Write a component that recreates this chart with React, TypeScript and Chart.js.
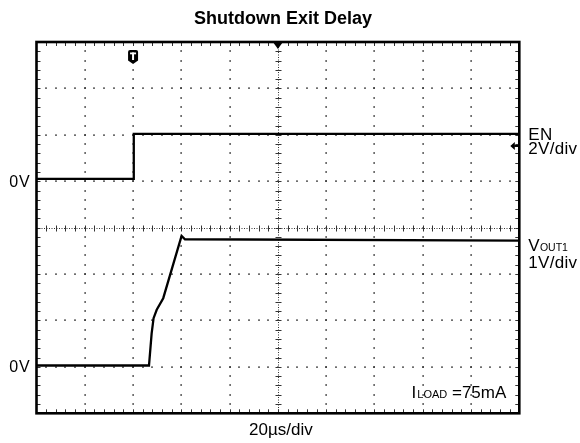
import React, { useEffect, useRef } from "react";
import { Chart, registerables } from "chart.js";

Chart.register(...registerables);

// ---- data ----
const timePerDiv = 20; // µs per division
const timeDivs = 10;
const vertDivs = 8;
const enVoltsPerDiv = 2;
const enZeroDiv = 5; // EN ground level, divisions from bottom
const voutVoltsPerDiv = 1;
const voutZeroDiv = 1; // VOUT1 ground level, divisions from bottom

const enTime = [0, 40, 40.3, 200];
const enVolts = [0.1, 0.1, 2.04, 2.04];

const voutTime = [0, 46.6, 47.7, 48.5, 49.8, 52.5, 60.1, 61.5, 200];
const voutVolts = [0.03, 0.03, 0.72, 1.05, 1.23, 1.48, 2.82, 2.75, 2.72];

const triggerTime = 40;

const titleText = "Shutdown Exit Delay";
const timeLabel = "20µs/div";
const enLabel = "EN";
const enScaleLabel = "2V/div";
const voutLabel = "V";
const voutSub = "OUT1";
const voutScaleLabel = "1V/div";
const groundLabel = "0V";
const loadMain = "I";
const loadSub = "LOAD";
const loadRest = " =75mA";

const FONT = "'Liberation Sans', Arial, sans-serif";

const scopePlugin = {
  id: "scope",
  beforeDatasetsDraw(chart: any) {
    const { ctx, chartArea: a } = chart;
    const xs = chart.scales.x;
    const ys = chart.scales.yV;
    const xPix = (d: number) => xs.getPixelForValue(d * timePerDiv);
    const yPix = (d: number) => ys.getPixelForValue(d * voutVoltsPerDiv - voutZeroDiv * voutVoltsPerDiv);
    ctx.save();
    ctx.fillStyle = "#333";
    // dotted gridlines
    for (let i = 1; i < timeDivs; i++) {
      if (i === timeDivs / 2) continue;
      const x = xPix(i);
      for (let j = 1; j < vertDivs * 5; j++) {
        const y = yPix(j / 5);
        ctx.fillRect(Math.round(x) - 0.5, Math.round(y) - 1, 1.2, 2);
      }
    }
    for (let j = 1; j < vertDivs; j++) {
      if (j === vertDivs / 2) continue;
      const y = yPix(j);
      for (let i = 1; i < timeDivs * 5; i++) {
        const x = xPix(i / 5);
        ctx.fillRect(Math.round(x) - 1, Math.round(y) - 0.5, 2, 1.2);
      }
    }
    // center lines
    ctx.strokeStyle = "#333";
    ctx.lineWidth = 1;
    ctx.setLineDash([1, 1.5]);
    const cx = Math.round(xPix(timeDivs / 2)) + 0.5;
    const cy = Math.round(yPix(vertDivs / 2)) + 0.5;
    ctx.beginPath();
    ctx.moveTo(cx, a.top);
    ctx.lineTo(cx, a.bottom);
    ctx.moveTo(a.left, cy);
    ctx.lineTo(a.right, cy);
    ctx.stroke();
    ctx.setLineDash([]);
    ctx.beginPath();
    for (let j = 1; j < vertDivs * 5; j++) {
      const y = Math.round(yPix(j / 5)) + 0.5;
      ctx.moveTo(cx - 3, y);
      ctx.lineTo(cx + 3, y);
    }
    for (let i = 1; i < timeDivs * 5; i++) {
      const x = Math.round(xPix(i / 5)) + 0.5;
      ctx.moveTo(x, cy - 3);
      ctx.lineTo(x, cy + 3);
    }
    // border ticks
    for (let i = 1; i < timeDivs * 5; i++) {
      const x = Math.round(xPix(i / 5)) + 0.5;
      ctx.moveTo(x, a.top);
      ctx.lineTo(x, a.top + 4);
      ctx.moveTo(x, a.bottom);
      ctx.lineTo(x, a.bottom - 4);
    }
    for (let j = 1; j < vertDivs * 5; j++) {
      const y = Math.round(yPix(j / 5)) + 0.5;
      ctx.moveTo(a.left, y);
      ctx.lineTo(a.left + 4, y);
      ctx.moveTo(a.right, y);
      ctx.lineTo(a.right - 4, y);
    }
    ctx.stroke();
    ctx.restore();
  },
  afterDraw(chart: any) {
    const { ctx, chartArea: a } = chart;
    const xs = chart.scales.x;
    const yE = chart.scales.yEN;
    const yV = chart.scales.yV;
    ctx.save();
    // border
    ctx.strokeStyle = "#000";
    ctx.lineWidth = 2.6;
    ctx.strokeRect(a.left, a.top, a.right - a.left, a.bottom - a.top);

    ctx.fillStyle = "#000";
    // top center marker
    const cx = xs.getPixelForValue((timeDivs / 2) * timePerDiv);
    ctx.beginPath();
    ctx.moveTo(cx - 5, a.top);
    ctx.lineTo(cx + 5, a.top);
    ctx.lineTo(cx, a.top + 7);
    ctx.closePath();
    ctx.fill();

    // trigger marker
    const tx = xs.getPixelForValue(triggerTime);
    const ty = a.top + 8;
    ctx.beginPath();
    ctx.moveTo(tx - 5, ty + 2);
    ctx.quadraticCurveTo(tx - 5, ty, tx - 3, ty);
    ctx.lineTo(tx + 3, ty);
    ctx.quadraticCurveTo(tx + 5, ty, tx + 5, ty + 2);
    ctx.lineTo(tx + 5, ty + 10.5);
    ctx.lineTo(tx, ty + 14);
    ctx.lineTo(tx - 5, ty + 10.5);
    ctx.closePath();
    ctx.fill();
    ctx.fillStyle = "#fff";
    ctx.fillRect(tx - 3, ty + 2.5, 6, 1.8);
    ctx.fillRect(tx - 1, ty + 2.5, 2, 7.5);

    // right-side reference arrow
    ctx.fillStyle = "#000";
    const ay = yE.getPixelForValue(1.52);
    ctx.beginPath();
    ctx.moveTo(a.right - 9, ay);
    ctx.lineTo(a.right - 4.5, ay - 4);
    ctx.lineTo(a.right - 4.5, ay + 4);
    ctx.closePath();
    ctx.fill();
    ctx.fillRect(a.right - 5, ay - 1, 5, 2);

    // texts
    ctx.textBaseline = "middle";
    ctx.font = `bold 18px ${FONT}`;
    ctx.textAlign = "center";
    ctx.fillText(titleText, 283, 19);

    ctx.font = `17px ${FONT}`;
    ctx.fillText(timeLabel, (a.left + a.right) / 2 + 3, 430);

    ctx.font = `16px ${FONT}`;
    (ctx as any).letterSpacing = "0.8px";
    ctx.textAlign = "right";
    ctx.fillText(groundLabel, a.left - 6, yE.getPixelForValue(0) + 1.5);
    ctx.fillText(groundLabel, a.left - 6, yV.getPixelForValue(0) + 1);

    ctx.textAlign = "left";
    ctx.font = `17px ${FONT}`;
    (ctx as any).letterSpacing = "0.3px";
    const lx = a.right + 9;
    ctx.fillText(enLabel, lx, 135);
    ctx.fillText(enScaleLabel, lx, 149);
    ctx.textBaseline = "alphabetic";
    ctx.fillText(voutLabel, lx, 250.5);
    const vw = ctx.measureText(voutLabel).width;
    ctx.font = `10.5px ${FONT}`;
    (ctx as any).letterSpacing = "0px";
    ctx.fillText(voutSub, lx + vw, 250.5);
    ctx.font = `17px ${FONT}`;
    (ctx as any).letterSpacing = "0.3px";
    ctx.textBaseline = "middle";
    ctx.fillText(voutScaleLabel, lx, 263);

    // I_LOAD label, right aligned
    (ctx as any).letterSpacing = "0px";
    ctx.textBaseline = "alphabetic";
    ctx.font = `17px ${FONT}`;
    const w1 = ctx.measureText(loadMain).width;
    const w3 = ctx.measureText(loadRest).width;
    ctx.font = `11px ${FONT}`;
    const w2 = ctx.measureText(loadSub).width;
    const endX = a.right - 13;
    const startX = endX - (w1 + w2 + w3 + 1);
    const base = 397.5;
    ctx.font = `17px ${FONT}`;
    ctx.fillText(loadMain, startX, base);
    ctx.font = `11px ${FONT}`;
    ctx.fillText(loadSub, startX + w1 + 1, base);
    ctx.font = `17px ${FONT}`;
    ctx.fillText(loadRest, startX + w1 + w2 + 1, base);
    ctx.restore();
  },
};

export default function App() {
  const canvasRef = useRef<HTMLCanvasElement | null>(null);

  useEffect(() => {
    document.body.style.margin = "0";
    const canvas = canvasRef.current;
    if (!canvas) return;
    const toPoints = (t: number[], v: number[]) => t.map((x, i) => ({ x, y: v[i] }));
    const chart = new Chart(canvas, {
      type: "line",
      data: {
        datasets: [
          {
            label: "EN",
            data: toPoints(enTime, enVolts),
            yAxisID: "yEN",
            borderColor: "#000",
            borderWidth: 2.3,
            pointRadius: 0,
            tension: 0,
          },
          {
            label: "VOUT1",
            data: toPoints(voutTime, voutVolts),
            yAxisID: "yV",
            borderColor: "#000",
            borderWidth: 2.3,
            pointRadius: 0,
            tension: 0,
          },
        ],
      },
      options: {
        responsive: false,
        animation: false,
        events: [],
        layout: { padding: { left: 36.5, top: 42, right: 60.7, bottom: 29.7 } },
        plugins: {
          legend: { display: false },
          title: { display: false },
          tooltip: { enabled: false },
        },
        scales: {
          x: { type: "linear", min: 0, max: timeDivs * timePerDiv, display: false },
          yEN: {
            type: "linear",
            min: -enZeroDiv * enVoltsPerDiv,
            max: (vertDivs - enZeroDiv) * enVoltsPerDiv,
            display: false,
          },
          yV: {
            type: "linear",
            min: -voutZeroDiv * voutVoltsPerDiv,
            max: (vertDivs - voutZeroDiv) * voutVoltsPerDiv,
            display: false,
          },
        },
      },
      plugins: [scopePlugin],
    });
    return () => chart.destroy();
  }, []);

  return (
    <div style={{ position: "fixed", left: 0, top: 0, width: 580, height: 443, background: "#fff" }}>
      <canvas ref={canvasRef} width={580} height={443} />
    </div>
  );
}
